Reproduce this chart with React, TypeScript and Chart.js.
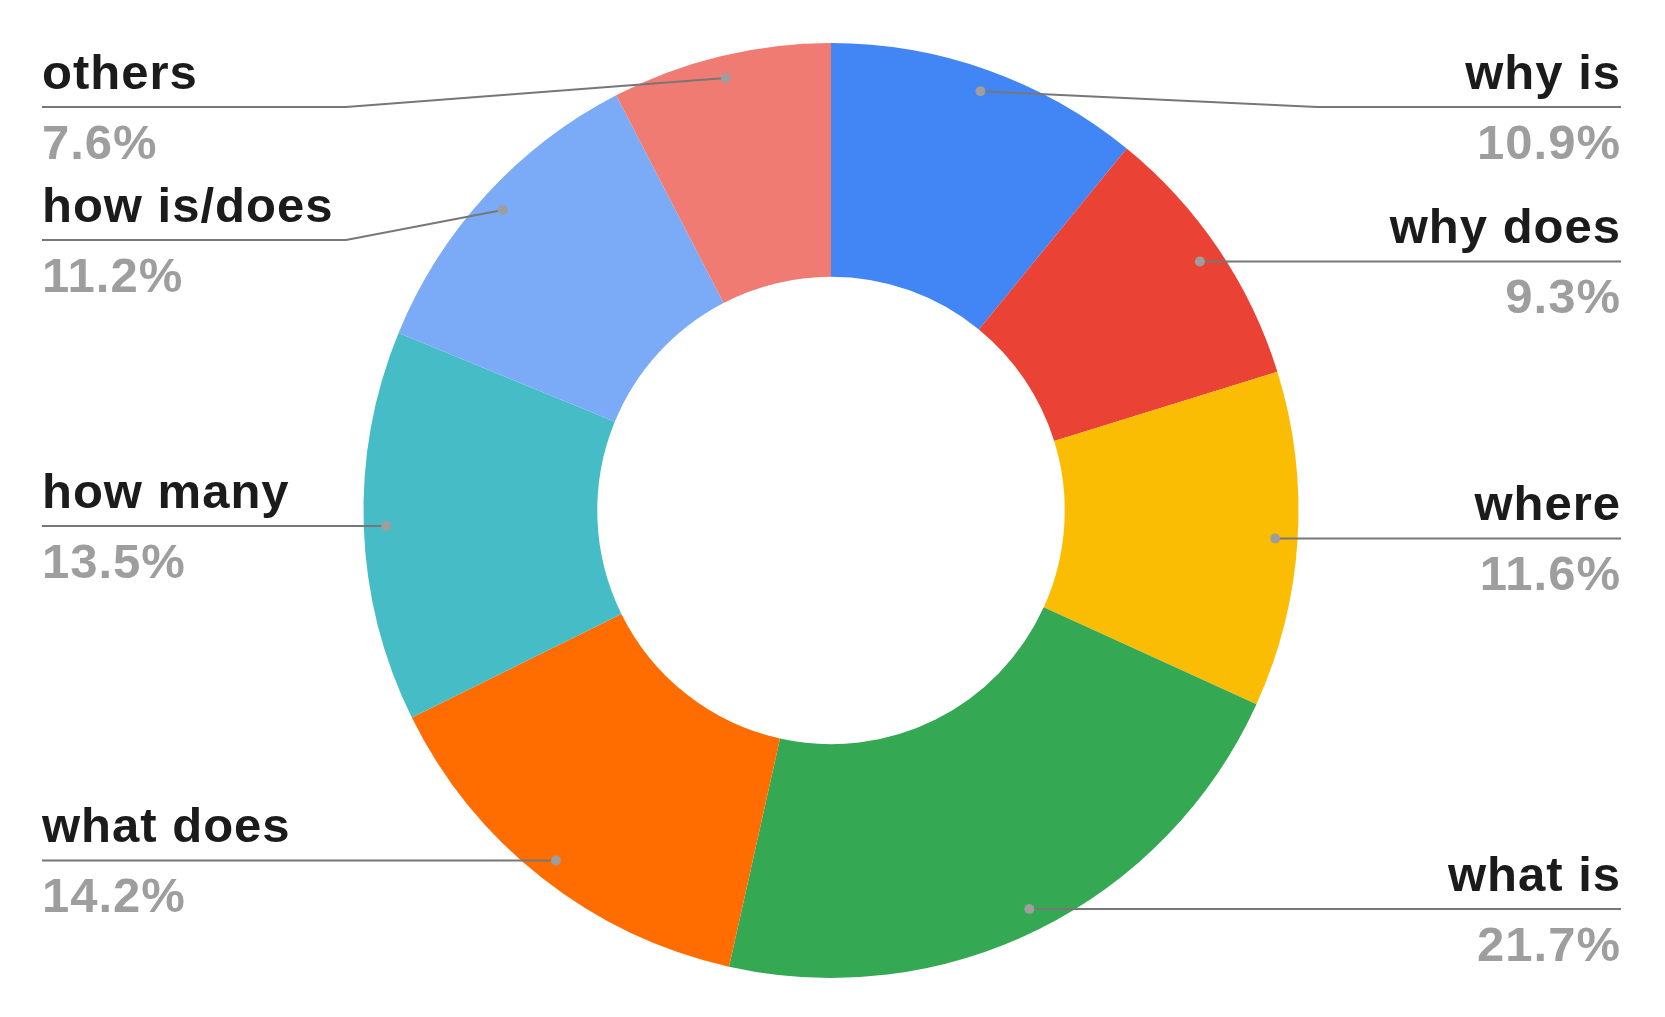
import React, { useEffect, useRef } from "react";
import { Chart, registerables } from "chart.js";

Chart.register(...registerables);

const categories = [
  "why is",
  "why does",
  "where",
  "what is",
  "what does",
  "how many",
  "how is/does",
  "others",
];
const shares = [10.9, 9.3, 11.6, 21.7, 14.2, 13.5, 11.2, 7.6];
const sliceColors = [
  "#4285F4",
  "#EA4335",
  "#FBBC04",
  "#34A853",
  "#FF6D01",
  "#46BDC6",
  "#7BAAF7",
  "#F07B72",
];

const FONT = "'Liberation Sans', Arial, Helvetica, sans-serif";

const calloutPlugin = {
  id: "callouts",
  afterDatasetsDraw(chart: any) {
    const ctx = chart.ctx as CanvasRenderingContext2D;
    const meta = chart.getDatasetMeta(0);
    const data = chart.data.datasets[0].data as number[];
    const total = data.reduce((a, b) => a + b, 0);
    const W = chart.width;
    const H = chart.height;
    const leftEdge = 42;
    const rightEdge = W - 44;
    const segLen = 304;
    const topMin = 107;
    const gap = 133;
    const items: any[] = [];
    meta.data.forEach((arc: any, i: number) => {
      const p = arc.getProps(["x", "y", "startAngle", "endAngle", "outerRadius"], true);
      const mid = (p.startAngle + p.endAngle) / 2;
      const r = p.outerRadius * 0.952;
      const dx = p.x + Math.cos(mid) * r;
      const dy = p.y + Math.sin(mid) * r;
      items.push({
        i,
        dx,
        dy,
        right: Math.cos(mid) >= 0,
        label: chart.data.labels[i],
        value: ((data[i] / total) * 100).toFixed(1) + "%",
      });
    });
    [true, false].forEach((side) => {
      const group = items.filter((it) => it.right === side).sort((a, b) => a.dy - b.dy);
      let prev = -Infinity;
      group.forEach((it) => {
        it.ly = Math.max(it.dy, topMin, prev + gap);
        prev = it.ly;
      });
      let next = Infinity;
      for (let k = group.length - 1; k >= 0; k--) {
        const it = group[k];
        it.ly = Math.min(it.ly, H - topMin, next - gap);
        next = it.ly;
      }
    });
    ctx.save();
    items.forEach((it) => {
      const edgeX = it.right ? rightEdge : leftEdge;
      const elbowX = it.right
        ? Math.max(rightEdge - segLen, it.dx)
        : Math.min(leftEdge + segLen, it.dx);
      ctx.strokeStyle = "#777777";
      ctx.lineWidth = 2;
      ctx.beginPath();
      ctx.moveTo(it.dx, it.dy);
      ctx.lineTo(elbowX, it.ly);
      ctx.lineTo(edgeX, it.ly);
      ctx.stroke();
      ctx.fillStyle = "#9e9e9e";
      ctx.beginPath();
      ctx.arc(it.dx, it.dy, 5, 0, Math.PI * 2);
      ctx.fill();
      ctx.textAlign = it.right ? "right" : "left";
      ctx.textBaseline = "alphabetic";
      (ctx as any).letterSpacing = "1px";
      const tx = it.right ? rightEdge : leftEdge;
      ctx.font = `bold 49px ${FONT}`;
      ctx.fillStyle = "#1b1b1b";
      ctx.fillText(it.label, tx, it.ly - 18);
      ctx.fillStyle = "#9e9e9e";
      ctx.fillText(it.value, tx, it.ly + 52);
      (ctx as any).letterSpacing = "0px";
    });
    ctx.restore();
  },
};

export default function App() {
  const ref = useRef<HTMLCanvasElement | null>(null);
  useEffect(() => {
    if (!ref.current) return;
    const chart = new Chart(ref.current, {
      type: "doughnut",
      data: {
        labels: categories,
        datasets: [
          {
            data: shares,
            backgroundColor: sliceColors,
            borderWidth: 0,
          },
        ],
      },
      options: {
        animation: false,
        responsive: false,
        maintainAspectRatio: false,
        devicePixelRatio: 1,
        cutout: "50%",
        layout: { padding: { top: 43, bottom: 39, left: 0, right: 3 } },
        plugins: {
          legend: { display: false },
          tooltip: { enabled: false },
        },
      },
      plugins: [calloutPlugin],
    });
    return () => chart.destroy();
  }, []);
  return (
    <div style={{ position: "fixed", left: 0, top: 0, width: 1665, height: 1017, background: "#fff" }}>
      <canvas ref={ref} width={1665} height={1017} style={{ width: 1665, height: 1017, display: "block" }} />
    </div>
  );
}
